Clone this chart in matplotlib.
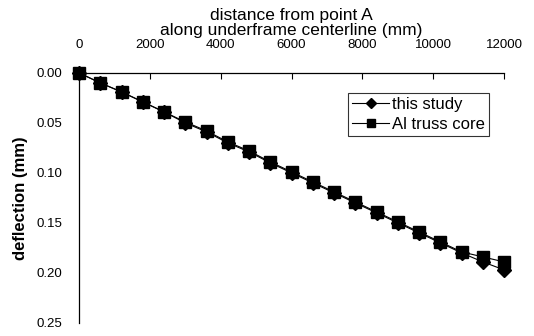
import numpy as np
from matplotlib import pyplot as plt

plt.rcParams['font.family'] = ['Liberation Sans', 'DejaVu Sans']

# distance along the underframe centerline (mm)
distance = [0, 600, 1200, 1800, 2400, 3000, 3600, 4200, 4800, 5400, 6000,
            6600, 7200, 7800, 8400, 9000, 9600, 10200, 10800, 11400, 12000]
# deflection (mm)
this_study = [0.000, 0.010, 0.019, 0.029, 0.039, 0.050, 0.059, 0.070, 0.079,
              0.090, 0.100, 0.110, 0.120, 0.130, 0.140, 0.150, 0.160, 0.170,
              0.180, 0.189, 0.197]
al_truss = [0.000, 0.010, 0.019, 0.029, 0.039, 0.049, 0.058, 0.069, 0.078,
            0.089, 0.099, 0.109, 0.119, 0.129, 0.139, 0.149, 0.159, 0.169,
            0.179, 0.184, 0.189]

fig = plt.figure(figsize=(5.34, 3.36), dpi=100)
ax = fig.add_axes([0.148, 0.039, 0.796, 0.744])

ax.plot(distance, this_study, color='black', lw=0.8, marker='D', ms=7,
        label='this study', clip_on=False, zorder=3)
ax.plot(distance, al_truss, color='black', lw=0.8, marker='s', ms=8.5,
        label='Al truss core', clip_on=False, zorder=4)

ax.set_xlim(0, 12000)
ax.set_ylim(0.25, 0.0)
ax.set_xticks(np.arange(0, 12001, 2000))
ax.set_yticks(np.arange(0, 0.251, 0.05))
ax.yaxis.set_major_formatter(plt.FormatStrFormatter('%.2f'))

ax.xaxis.tick_top()
ax.xaxis.set_label_position('top')
ax.tick_params(axis='x', direction='in', length=4, labelsize=9.5, pad=16)
ax.tick_params(axis='y', length=0, labelsize=9.5, pad=12)
ax.spines['right'].set_visible(False)
ax.spines['bottom'].set_visible(False)
for s in ['top', 'left']:
    ax.spines[s].set_linewidth(0.9)

ax.set_xlabel('distance from point A\nalong underframe centerline (mm)',
              fontsize=12.5, labelpad=3, linespacing=0.95)
ax.set_ylabel('deflection (mm)', fontsize=12, fontweight='bold', labelpad=6)

leg = ax.legend(loc='upper right', bbox_to_anchor=(0.965, 0.92), fontsize=12,
                frameon=True, fancybox=False, edgecolor='black',
                handlelength=2.2, handletextpad=0.2, borderpad=0.25,
                labelspacing=0.3, borderaxespad=0, markerscale=0.75)
leg.get_frame().set_linewidth(0.8)

fig.savefig('out.png', dpi=100)
